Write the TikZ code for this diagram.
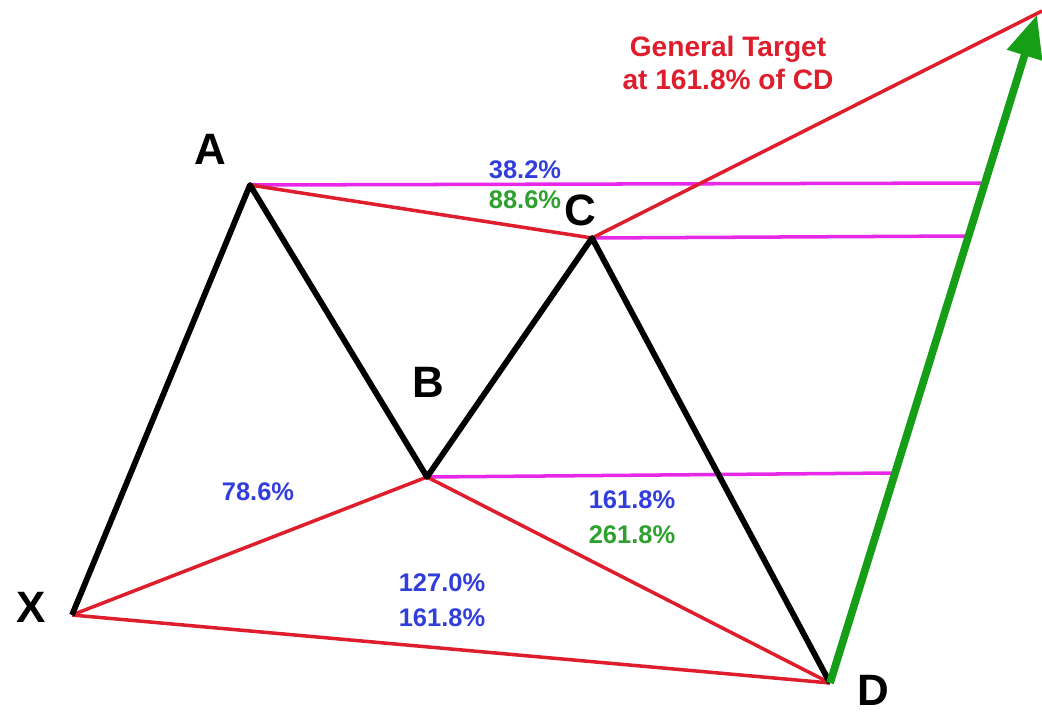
\documentclass[tikz,border=0pt]{standalone}
\usepackage{fontspec}
\setmainfont{Liberation Sans}
\usetikzlibrary{arrows.meta,positioning,calc}
\tikzset{>=Stealth}
\definecolor{fibred}{RGB}{222,30,45}
\definecolor{fibblue}{RGB}{50,62,220}
\definecolor{fibgreen}{RGB}{45,160,45}
\definecolor{fibmag}{RGB}{232,40,232}
\definecolor{legup}{RGB}{22,158,22}

\begin{document}
\begin{tikzpicture}[
    leg/.style={draw=black, line width=3.3pt, line join=round},
    ratio/.style={draw=fibred, line width=2pt},
    level/.style={draw=fibmag, line width=2pt},
    point/.style={font=\bfseries\fontsize{25}{25}\selectfont, inner sep=0pt},
    pct/.style={font=\bfseries\fontsize{14.5}{17}\selectfont, align=center, inner sep=0pt}
  ]
    \useasboundingbox (0,0) rectangle (20.84,-14.34);

    % pattern points
    \coordinate (X) at (1.44,-12.30);
    \coordinate (A) at (5.00,-3.70);
    \coordinate (B) at (8.54,-9.54);
    \coordinate (C) at (11.84,-4.76);
    \coordinate (D) at (16.60,-13.66);
    \coordinate (target) at (20.84,-0.22);
    \coordinate (tip) at (20.74,-0.30);
    \coordinate (mA) at (19.70,-3.66);
    \coordinate (mC) at (19.32,-4.72);
    \coordinate (mB) at (17.84,-9.46);

    % levels
    \draw[level] (A) -- (mA);
    \draw[level] (C) -- (mC);
    \draw[level] (B) -- (mB);

    % ratio lines
    \draw[ratio] (A) -- (C);
    \draw[ratio] (X) -- (B);
    \draw[ratio] (B) -- (D);
    \draw[ratio] (X) -- (D);
    \draw[ratio] (C) -- (target);

    % legs
    \draw[leg] (X) -- (A) -- (B) -- (C) -- (D);
    \draw[draw=legup, line width=4.4pt, -{Triangle[length=24pt,width=20pt]}] (D) -- (tip);

    \node[point] (lX) at (0.62,-12.14) {X};
    \node[point] (lA) at (4.20,-2.98) {A};
    \node[point] (lB) at (8.56,-7.64) {B};
    \node[point] (lC) at (11.60,-4.20) {C};
    \node[point] (lD) at (17.46,-13.80) {D};

    \node[pct, text=fibblue] (rAC) at (10.50,-3.40) {38.2\%};
    \node[pct, text=fibgreen] (rAC2) at (10.50,-4.00) {88.6\%};
    \node[pct, text=fibblue] (rXB) at (5.16,-9.84) {78.6\%};
    \node[pct, text=fibblue] (rBD) at (12.64,-10.00) {161.8\%};
    \node[pct, text=fibgreen] (rBD2) at (12.64,-10.70) {261.8\%};
    \node[pct, text=fibblue, font=\bfseries\fontsize{14.5}{20}\selectfont] (rXD) at (8.84,-12.00) {127.0\%\\161.8\%};
    \node[pct, text=fibred, font=\bfseries\fontsize{16}{19}\selectfont] (goal) at (14.56,-1.26) {General Target\\at 161.8\% of CD};
  \end{tikzpicture}
\end{document}
